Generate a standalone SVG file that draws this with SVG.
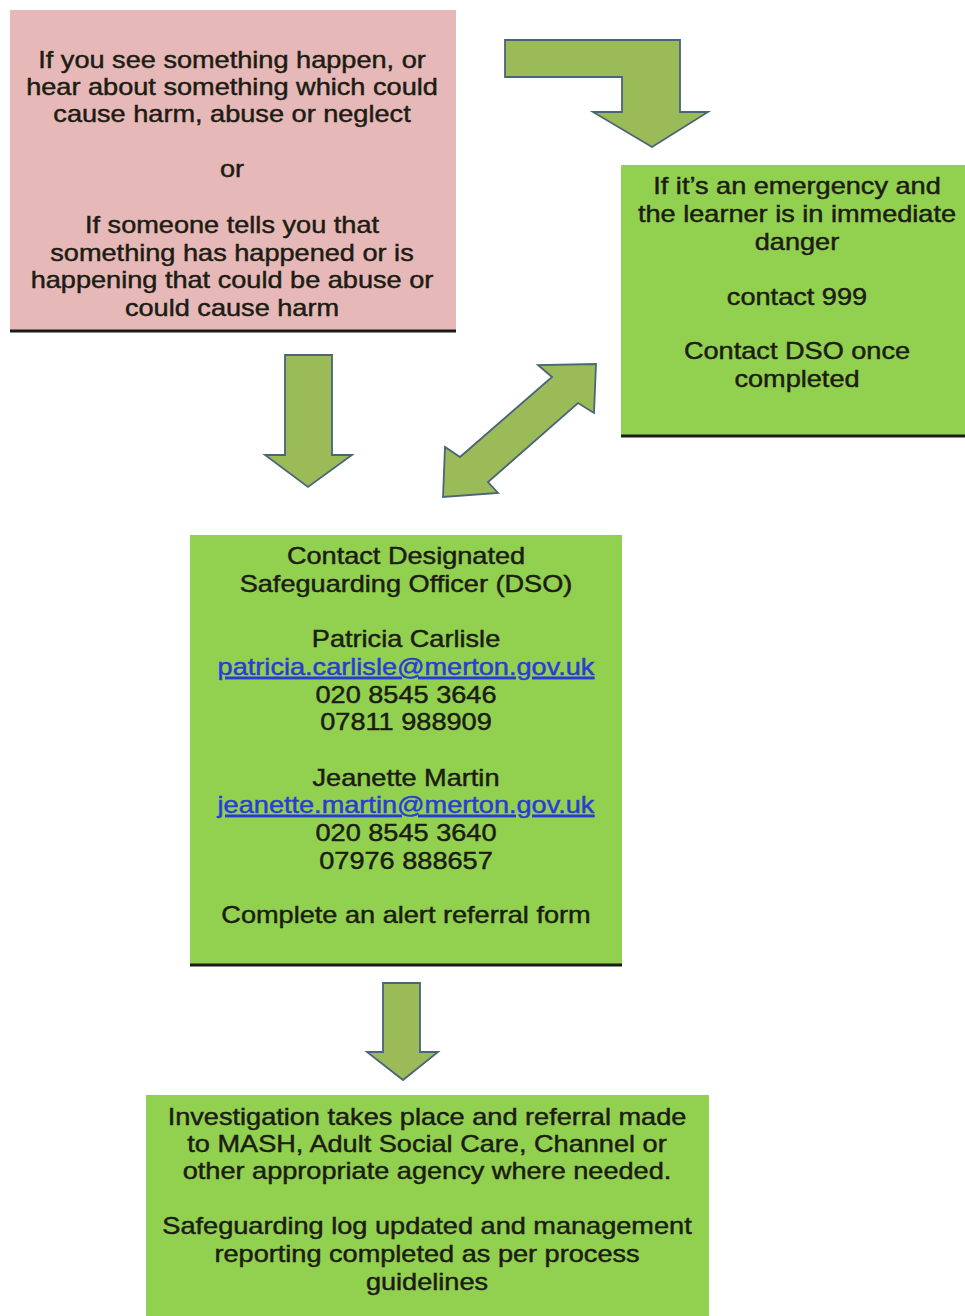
<svg xmlns="http://www.w3.org/2000/svg" width="965" height="1316" viewBox="0 0 965 1316">
<style>
text{font-family:"Liberation Sans",Arial,sans-serif;font-size:23px;fill:#1c1c14;stroke:#1c1c14;stroke-width:0.45;text-anchor:middle}
.link{fill:#2a3bd6;stroke:#2a3bd6;text-decoration:underline}
.arrow{fill:#9bbb59;stroke:#4a6478;stroke-width:1.8;stroke-linejoin:miter}
.base{stroke:#1a1a1a;stroke-width:3}
</style>
<rect width="965" height="1316" fill="#ffffff"/>
<g id="node-observe">
<rect x="10" y="10" width="446" height="321" fill="#e6b9b8"/>
<line class="base" x1="10" y1="331" x2="456" y2="331"/>
<g transform="translate(232,0) scale(1.18,1)">
<text x="0" y="68">If you see something happen, or</text>
<text x="0" y="95">hear about something which could</text>
<text x="0" y="122">cause harm, abuse or neglect</text>
<text x="0" y="177">or</text>
<text x="0" y="233">If someone tells you that</text>
<text x="0" y="261">something has happened or is</text>
<text x="0" y="288">happening that could be abuse or</text>
<text x="0" y="316">could cause harm</text>
</g>
</g>
<g id="node-emergency">
<rect x="621" y="165" width="344" height="271" fill="#92d050"/>
<line class="base" x1="621" y1="436" x2="965" y2="436"/>
<g transform="translate(797,0) scale(1.18,1)">
<text x="0" y="194">If it’s an emergency and</text>
<text x="0" y="222">the learner is in immediate</text>
<text x="0" y="250">danger</text>
<text x="0" y="305">contact 999</text>
<text x="0" y="359">Contact DSO once</text>
<text x="0" y="387">completed</text>
</g>
</g>
<g id="node-dso">
<rect x="190" y="535" width="432" height="430" fill="#92d050"/>
<line class="base" x1="190" y1="965" x2="622" y2="965"/>
<g transform="translate(406,0) scale(1.18,1)">
<text x="0" y="564">Contact Designated</text>
<text x="0" y="592">Safeguarding Officer (DSO)</text>
<text x="0" y="647">Patricia Carlisle</text>
<text class="link" x="0" y="675">patricia.carlisle@merton.gov.uk</text>
<text x="0" y="703">020 8545 3646</text>
<text x="0" y="730">07811 988909</text>
<text x="0" y="786">Jeanette Martin</text>
<text class="link" x="0" y="813">jeanette.martin@merton.gov.uk</text>
<text x="0" y="841">020 8545 3640</text>
<text x="0" y="869">07976 888657</text>
<text x="0" y="923">Complete an alert referral form</text>
</g>
</g>
<g id="node-investigation">
<rect x="146" y="1095" width="563" height="221" fill="#92d050"/>
<g transform="translate(427,0) scale(1.18,1)">
<text x="0" y="1125">Investigation takes place and referral made</text>
<text x="0" y="1152">to MASH, Adult Social Care, Channel or</text>
<text x="0" y="1179">other appropriate agency where needed.</text>
<text x="0" y="1234">Safeguarding log updated and management</text>
<text x="0" y="1262">reporting completed as per process</text>
<text x="0" y="1290">guidelines</text>
</g>
</g>
<g id="connectors">
<polygon class="arrow" points="505,40 680,40 680,112 708,112 652,147 593,112 622,112 622,77 505,77"/>
<polygon class="arrow" points="285,355 332,355 332,455 352,455 308,487 265,455 285,455"/>
<polygon class="arrow" points="596,364 594,413 578,403 488,482 498,493 443,497 445,447 460,457 552,377 538,365"/>
<polygon class="arrow" points="383,983 420,983 420,1052 438,1052 403,1080 367,1052 383,1052"/>
</g>
</svg>
